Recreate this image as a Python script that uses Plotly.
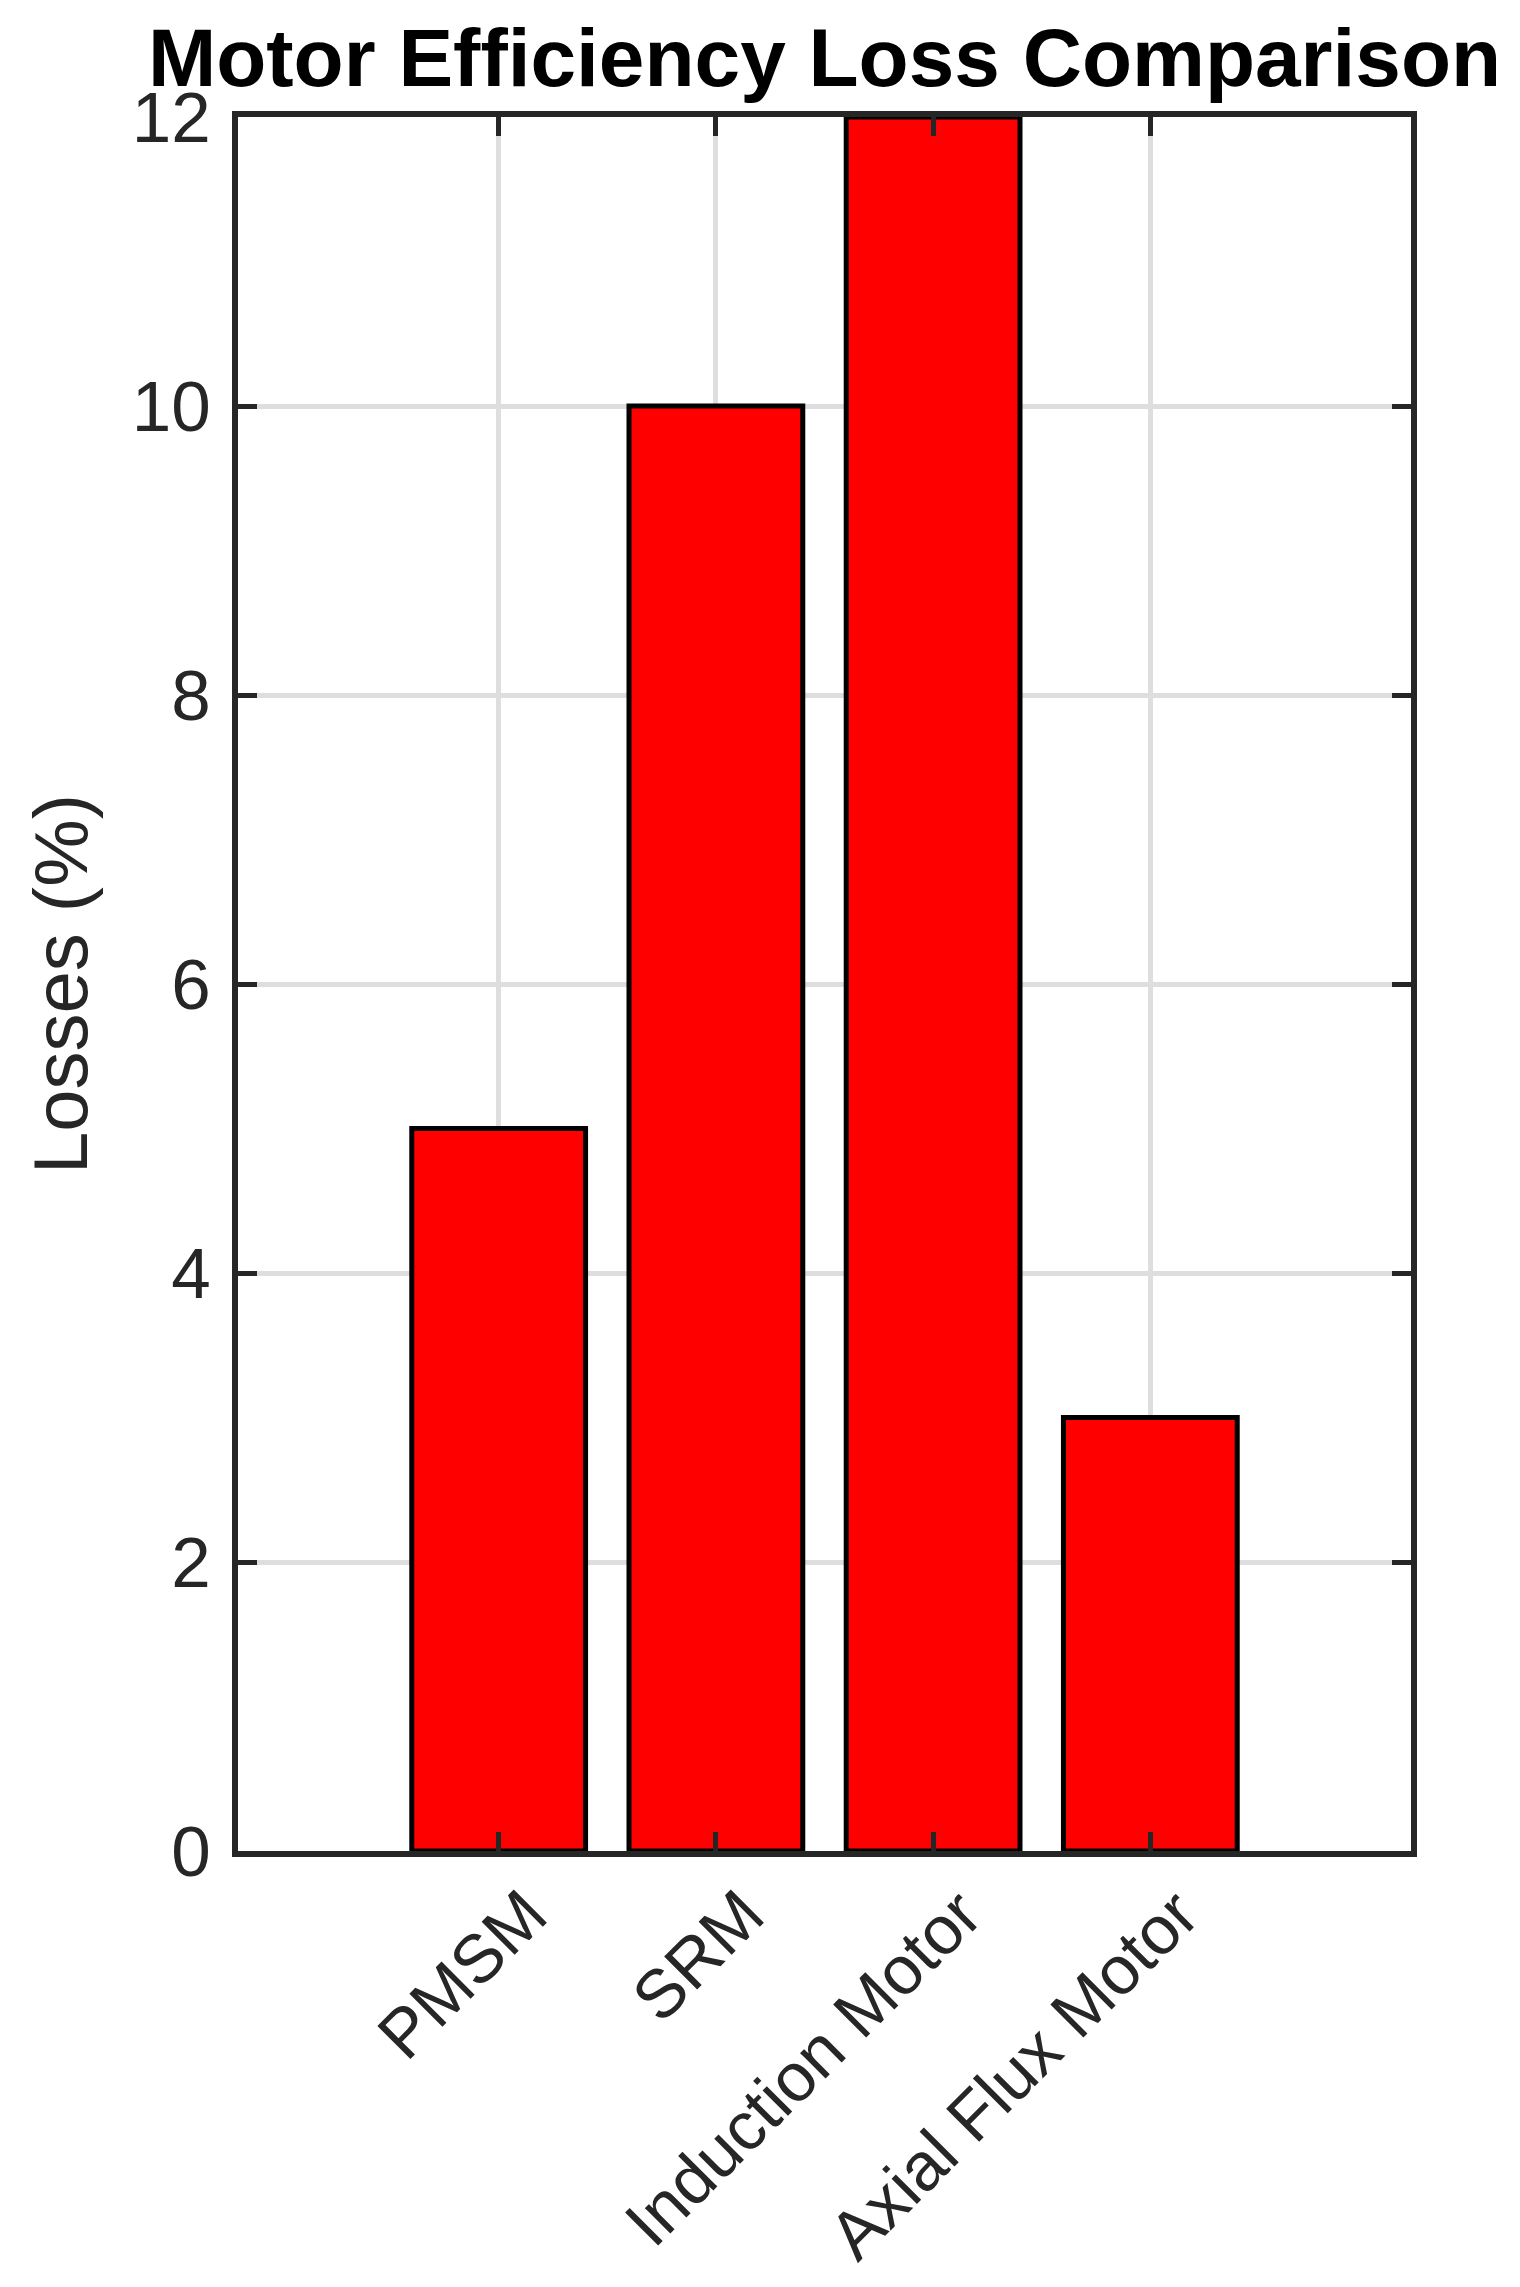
import plotly.graph_objects as go

motors = ["PMSM", "SRM", "Induction Motor", "Axial Flux Motor"]
losses = [5, 10, 12, 3]
y_ticks = [0, 2, 4, 6, 8, 10, 12]

ink = "#262626"
grid = "#dedede"
font = "Liberation Sans, Arial, sans-serif"

fig = go.Figure()
fig.add_trace(go.Bar(
    x=motors, y=losses, width=0.8,
    marker=dict(color="#ff0000", line=dict(color="black", width=5)),
))

# the page body has an 8px margin, so the figure starts at (8, 8)
fig.update_layout(
    width=1520, height=2287,
    margin=dict(l=230, r=117, t=109, b=444),
    plot_bgcolor="white", paper_bgcolor="white",
    showlegend=False,
    font=dict(family=font, color=ink, size=70),
    title=dict(
        text="<b>Motor Efficiency Loss Comparison</b>",
        font=dict(family=font, size=82, color="black"),
        x=0.5, xref="paper", xanchor="center",
        y=1 - 49.5 / 2287, yref="container", yanchor="middle",
    ),
)

fig.update_xaxes(
    type="category", range=[-1.2, 4.2],
    tickangle=-45, tickfont=dict(size=68, color=ink),
    ticklabelshift=28, ticklabelstandoff=-10,
    showline=True, linecolor=ink, linewidth=6, mirror="allticks",
    ticks="inside", ticklen=19, tickwidth=5, tickcolor=ink,
    showgrid=True, gridcolor=grid, gridwidth=5,
    automargin=False,
)
fig.update_yaxes(
    range=[0, 12], tickvals=y_ticks,
    tickfont=dict(size=71, color=ink), ticklabelstandoff=7,
    showline=True, linecolor=ink, linewidth=6, mirror="allticks",
    ticks="inside", ticklen=19, tickwidth=5, tickcolor=ink,
    showgrid=True, gridcolor=grid, gridwidth=5, zeroline=False,
    title=dict(text="Losses (%)", font=dict(size=76, color=ink), standoff=21),
    automargin=False,
)

fig.write_html("out.html")
